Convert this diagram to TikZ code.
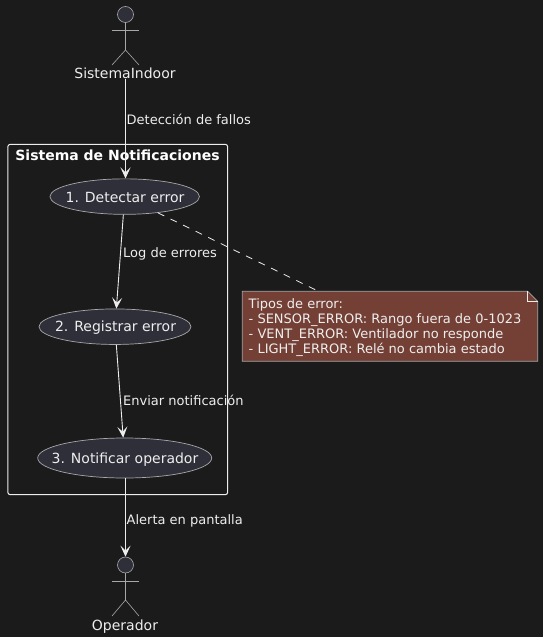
\documentclass[tikz,border=0pt]{standalone}
\usepackage{fontspec}
\setmainfont{DejaVu Sans}
\usetikzlibrary{arrows.meta,shapes.geometric}
\definecolor{bgc}{HTML}{1B1B1B}
\definecolor{fillc}{HTML}{2F2F3A}
\definecolor{notec}{HTML}{744036}
\definecolor{linec}{HTML}{EDEDED}
\definecolor{txtc}{HTML}{EEEEEE}
\definecolor{actc}{HTML}{A8A8A8}
\tikzset{
  x=1bp,y=-1bp,
  lbl/.style={text=txtc,font=\fontsize{13bp}{15bp}\selectfont,inner sep=0pt},
  actorname/.style={text=txtc,font=\fontsize{14bp}{16bp}\selectfont,inner sep=0pt,anchor=base},
  usecase/.style={ellipse,draw=actc,fill=fillc,line width=0.7bp,inner sep=0pt},
  casetext/.style={text=txtc,font=\fontsize{14bp}{16bp}\selectfont,inner sep=0pt,anchor=base},
  head/.style={circle,draw=actc,fill=fillc,line width=0.6bp,minimum size=16bp,inner sep=0pt},
  limb/.style={draw=actc,line width=0.6bp},
  conn/.style={draw=linec,line width=0.9bp,-{Stealth[length=11bp,width=10bp,inset=5bp]}},
  dashconn/.style={draw=linec,line width=0.8bp,dash pattern=on 7bp off 7bp},
}
\begin{document}
\begin{tikzpicture}
\path[fill=bgc,use as bounding box] (0,0) rectangle (543,637);
% system frame
\node[inner sep=0pt,minimum width=219.5bp,minimum height=350bp] (sys) at (117.75,319.5) {};
\draw[linec,line width=1bp,rounded corners=2.5bp] (sys.north west) rectangle (sys.south east);
\node[text=white,font=\bfseries\fontsize{14bp}{16bp}\selectfont,inner sep=0pt,anchor=base] (systitle) at (117.5,161) {Sistema de Notificaciones};
% use cases
\node[usecase,minimum width=149.5bp,minimum height=35.5bp] (e1) at (124.7,196.6) {};
\node[usecase,minimum width=152bp,minimum height=35.5bp] (e2) at (115,326.7) {};
\node[usecase,minimum width=174bp,minimum height=40bp] (e3) at (124.7,458) {};
\node[casetext] (t1) at (125,202) {1. Detectar error};
\node[casetext] (t2) at (115.5,331) {2. Registrar error};
\node[casetext] (t3) at (125,463) {3. Notificar operador};
% actors
\node[head] (h1) at (125.5,14.5) {};
\coordinate (h1b) at (125.5,50);
\draw[limb] (h1.south) -- (h1b);
\draw[limb] (112,30) -- (139,30);
\draw[limb] (112,65) -- (h1b) -- (139,65);
\node[actorname] (sysactor) at (125,79) {SistemaIndoor};
\node[head] (h2) at (125.5,565) {};
\coordinate (h2b) at (125.5,600);
\draw[limb] (h2.south) -- (h2b);
\draw[limb] (112,581) -- (139,581);
\draw[limb] (112,616) -- (h2b) -- (139,616);
\node[actorname] (opactor) at (125,630) {Operador};
% note outline node, used as the connector's end
\node[inner sep=0pt,minimum width=295bp,minimum height=69.5bp] (note) at (390,326.25) {};
% connectors
\draw[conn] (sysactor.south -| h1.south) -- (h1.south |- e1.north);
\draw[conn] (e1) -- (e2);
\draw[conn] (e2) -- (e3);
\draw[conn] (e3.south -| h2.north) -- (h2.north);
\draw[dashconn] (e1) -- (note);
% note shape
\draw[actc,fill=notec,line width=0.7bp] (note.north west) -- ([xshift=-10bp]note.north east) -- ([yshift=-10bp]note.north east) -- (note.south east) -- (note.south west) -- cycle;
\draw[linec,line width=0.7bp] ([xshift=-10bp]note.north east) -- ([xshift=-10bp,yshift=-10bp]note.north east) -- ([yshift=-10bp]note.north east);
\node[lbl,align=left,anchor=north west] (notetext) at (248.5,298) {Tipos de error:\\- SENSOR\_ERROR: Rango fuera de 0-1023\\- VENT\_ERROR: Ventilador no responde\\- LIGHT\_ERROR: Relé no cambia estado};
% connector labels
\node[lbl,anchor=base west] (l1) at (126.5,125) {Detección de fallos};
\node[lbl,anchor=base west] (l2) at (123,257) {Log de errores};
\node[lbl,anchor=base west] (l3) at (123,405) {Enviar notificación};
\node[lbl,anchor=base west] (l4) at (126.5,524) {Alerta en pantalla};
\end{tikzpicture}
\end{document}
